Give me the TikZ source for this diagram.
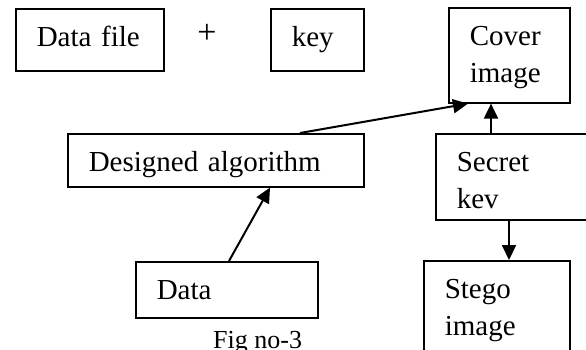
\documentclass[tikz,border=0pt]{standalone}
\usepackage{fontspec}
\setmainfont{Liberation Serif}
\usetikzlibrary{arrows.meta}
\begin{document}
\begin{tikzpicture}[x=1pt,y=-1pt,
    font=\fontsize{29pt}{37pt}\selectfont,
    box/.style={draw,line width=1.6pt,anchor=north west,align=left,
      inner xsep=21pt,inner ysep=0pt,text height=38pt},
    flow/.style={line width=2pt,-{Triangle[length=15pt,width=14pt]}}]
  \clip (0,0) rectangle (586,349);
  \node[box,text width=106pt,text depth=24pt] (file) at (15,8) {Data file};
  \node[inner sep=0pt,font=\fontsize{34pt}{40pt}\selectfont] (plus) at (207,34) {+};
  \node[box,text width=51pt,text depth=24pt] (key) at (270,8) {key};
  \node[box,text width=79pt,text depth=57pt] (cover) at (448,7) {Cover\\image};
  \node[box,text width=254pt,text depth=15pt] (algo) at (67,133) {Designed algorithm};
  \node[box,text width=118pt,text depth=48pt] (secret) at (435,133) {Secret\\kev};
  \node[box,text width=140pt,text depth=18pt] (data) at (135,261) {Data};
  \node[box,text width=104pt,text depth=72pt] (stego) at (423,260) {Stego\\image};
  \node[anchor=base west,inner sep=0pt,font=\fontsize{26pt}{30pt}\selectfont] (caption) at (213,348) {Fig no-3};
  \begin{scope}[flow]
    \draw ([xshift=233pt]algo.north west) -- ([xshift=20pt]cover.south west);
    \draw ([xshift=94pt]data.north west) -- ([xshift=203pt]algo.south west);
    \draw ([xshift=56pt]secret.north west) -- ([xshift=43pt]cover.south west);
    \draw ([xshift=74pt]secret.south west) -- ([xshift=86pt]stego.north west);
  \end{scope}
\end{tikzpicture}
\end{document}
